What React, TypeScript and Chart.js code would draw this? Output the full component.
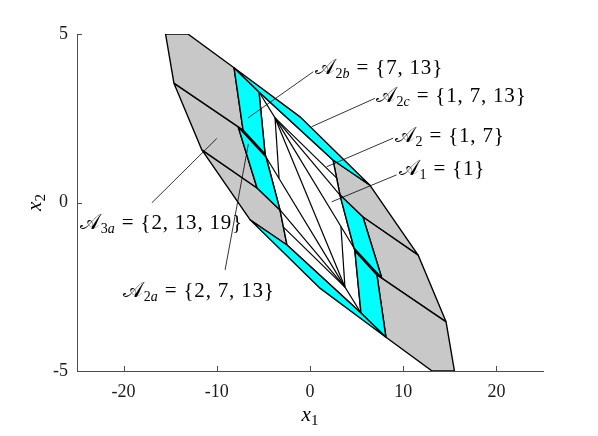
import React, { useEffect, useRef } from 'react';
import { Chart, registerables } from 'chart.js';

Chart.register(...registerables);

const xTicks = [-20, -10, 0, 10, 20];
const yTicks = [-5, 0, 5];

// Region vertices in (x1, x2)
const grayRegions: number[][][] = [
  [[-15.5, 5], [-13.1, 5], [-8.15, 4.0], [-7.18, 2.15], [-14.6, 3.54]],
  [[-14.6, 3.54], [-7.7, 2.24], [-5.68, 0.43], [-11.6, 1.56]],
  [[-11.6, 1.56], [-5.68, 0.43], [-3.22, -0.22], [-2.47, -1.26], [-6.4, -0.52]],
  [[-7.7, 2.24], [-7.18, 2.15], [-4.82, 1.44], [-4.72, 1.35]],
  [[15.5, -5], [13.1, -5], [8.15, -4.0], [7.18, -2.15], [14.6, -3.54]],
  [[14.6, -3.54], [7.7, -2.24], [5.68, -0.43], [11.6, -1.56]],
  [[11.6, -1.56], [5.68, -0.43], [3.22, 0.22], [2.47, 1.26], [6.4, 0.52]],
  [[7.7, -2.24], [7.18, -2.15], [4.82, -1.44], [4.72, -1.35]],
];

const cyanRegions: number[][][] = [
  [[-8.15, 4.0], [-1.1, 2.55], [6.4, 0.52], [2.47, 1.26], [-5.47, 3.28]],
  [[-8.15, 4.0], [-5.47, 3.28], [-4.82, 1.44], [-7.18, 2.15]],
  [[-7.7, 2.24], [-4.72, 1.35], [-3.22, -0.22], [-5.68, 0.43]],
  [[8.15, -4.0], [1.1, -2.55], [-6.4, -0.52], [-2.47, -1.26], [5.47, -3.28]],
  [[8.15, -4.0], [5.47, -3.28], [4.82, -1.44], [7.18, -2.15]],
  [[7.7, -2.24], [4.72, -1.35], [3.22, 0.22], [5.68, -0.43]],
];

const whiteRegions: number[][][] = [
  [[-5.47, 3.28], [2.47, 1.26], [3.22, 0.22], [4.72, -1.35], [4.82, -1.44],
   [5.47, -3.28], [-2.47, -1.26], [-3.22, -0.22], [-4.72, 1.35], [-4.82, 1.44]],
];

const innerLines: number[][][] = [
  [[-5.47, 3.28], [-3.75, 2.51]],
  [[-3.75, 2.51], [-3.32, 0.72]],
  [[-3.75, 2.51], [4.72, -1.35]],
  [[-3.75, 2.51], [3.75, -2.51]],
  [[-3.75, 2.51], [2.85, 0.73]],
  [[-3.75, 2.51], [3.22, 0.22]],
  [[5.47, -3.28], [3.75, -2.51]],
  [[3.75, -2.51], [3.32, -0.72]],
  [[3.75, -2.51], [-4.72, 1.35]],
  [[3.75, -2.51], [-2.85, -0.73]],
  [[3.75, -2.51], [-3.22, -0.22]],
];

// Annotations: subscript, set text, label anchor (left, middle), leader start, leader end
const labelSubs = ['2b', '2c', '2', '1', '3a', '2a'];
const labelSets = ['{7, 13}', '{1, 7, 13}', '{1, 7}', '{1}', '{2, 13, 19}', '{2, 7, 13}'];
const labelAt = [[0.54, 4.03], [7.07, 3.19], [9.11, 2.0], [9.54, 1.02], [-24.65, -0.58], [-20.04, -2.6]];
const leaderFrom = [[0.35, 3.88], [6.97, 3.09], [8.93, 1.91], [9.29, 0.82], [-16.97, -0.01], [-9.11, -2.0]];
const leaderTo = [[-6.65, 2.51], [0.18, 2.25], [1.79, 1.06], [2.33, 0.02], [-10.0, 1.9], [-6.61, 1.74]];

const FONT = "'Liberation Serif', 'DejaVu Serif', serif";
const AXIS_COLOR = '#4d4d4d';

const overlay = {
  id: 'overlay',
  afterDraw(chart: any) {
    const ctx = chart.ctx as CanvasRenderingContext2D;
    const xs = chart.scales.x;
    const ys = chart.scales.y;
    const area = chart.chartArea;
    ctx.save();
    // inward tick marks
    ctx.strokeStyle = AXIS_COLOR;
    ctx.lineWidth = 1;
    ctx.beginPath();
    xTicks.forEach((v) => {
      const px = Math.round(xs.getPixelForValue(v)) + 0.5;
      ctx.moveTo(px, area.bottom);
      ctx.lineTo(px, area.bottom - 5);
    });
    yTicks.forEach((v) => {
      const py = Math.round(ys.getPixelForValue(v)) + 0.5;
      ctx.moveTo(area.left, py);
      ctx.lineTo(area.left + 5, py);
    });
    ctx.stroke();

    // leaders
    ctx.strokeStyle = '#000';
    ctx.lineWidth = 0.8;
    for (let i = 0; i < labelSubs.length; i++) {
      ctx.beginPath();
      ctx.moveTo(xs.getPixelForValue(leaderFrom[i][0]), ys.getPixelForValue(leaderFrom[i][1]));
      ctx.lineTo(xs.getPixelForValue(leaderTo[i][0]), ys.getPixelForValue(leaderTo[i][1]));
      ctx.stroke();
    }

    // labels
    ctx.fillStyle = '#000';
    ctx.textBaseline = 'alphabetic';
    ctx.textAlign = 'left';
    const c2: any = ctx;
    for (let i = 0; i < labelSubs.length; i++) {
      let x = xs.getPixelForValue(labelAt[i][0]);
      const base = ys.getPixelForValue(labelAt[i][1]) + 7;
      c2.letterSpacing = '0px';
      ctx.font = `21px ${FONT}`;
      ctx.fillText('𝒜', x, base);
      x += ctx.measureText('𝒜').width + 0.5;
      for (const ch of labelSubs[i]) {
        ctx.font = /[0-9]/.test(ch) ? `14px ${FONT}` : `italic 14px ${FONT}`;
        ctx.fillText(ch, x, base + 4);
        x += ctx.measureText(ch).width;
      }
      c2.letterSpacing = '0.8px';
      ctx.font = `21px ${FONT}`;
      const rest = ' = ' + labelSets[i];
      ctx.fillText(rest, x + 1, base);
    }
    c2.letterSpacing = '0px';

    // axis titles
    const cx = (area.left + area.right) / 2;
    ctx.font = `italic 21px ${FONT}`;
    const wx = ctx.measureText('x').width;
    ctx.font = `15px ${FONT}`;
    const w1 = ctx.measureText('1').width;
    let tx = cx - (wx + w1) / 2;
    ctx.font = `italic 21px ${FONT}`;
    ctx.fillText('x', tx, 421);
    ctx.font = `15px ${FONT}`;
    ctx.fillText('1', tx + wx, 425);

    const cy = (area.top + area.bottom) / 2;
    ctx.translate(41, cy);
    ctx.rotate(-Math.PI / 2);
    ctx.font = `italic 21px ${FONT}`;
    tx = -(wx + w1) / 2;
    ctx.fillText('x', tx, 0);
    ctx.font = `15px ${FONT}`;
    ctx.fillText('2', tx + wx, 4);
    ctx.restore();
  },
};

export default function App() {
  const ref = useRef<HTMLCanvasElement>(null);
  useEffect(() => {
    document.body.style.margin = '0';
    const canvas = ref.current!;
    const toPts = (poly: number[][]) => poly.map(([x, y]) => ({ x, y }));
    const close = (poly: number[][]) => [...poly, poly[0]];
    const datasets: any[] = [];
    innerLines.forEach((seg) =>
      datasets.push({ data: toPts(seg), borderColor: '#000', borderWidth: 1.2, pointRadius: 0, fill: false, order: 0 })
    );
    const addPolys = (polys: number[][][], color: string, order: number) =>
      polys.forEach((p) =>
        datasets.push({
          data: toPts(close(p)),
          borderColor: '#000',
          borderWidth: 1.4,
          borderJoinStyle: 'round',
          backgroundColor: color,
          fill: 'shape',
          pointRadius: 0,
          order,
        })
      );
    addPolys(cyanRegions, '#00ffff', 1);
    addPolys(whiteRegions, '#ffffff', 2);
    addPolys(grayRegions, '#c8c8c8', 3);

    const chart = new Chart(canvas, {
      type: 'line',
      data: { datasets },
      options: {
        animation: false,
        responsive: false,
        events: [],
        plugins: { legend: { display: false }, tooltip: { enabled: false } },
        layout: { padding: { top: 34, right: 55, left: 0, bottom: 0 } },
        scales: {
          x: {
            type: 'linear',
            min: -25,
            max: 25,
            afterBuildTicks: (s: any) => { s.ticks = xTicks.map((v) => ({ value: v })); },
            afterFit: (s: any) => { s.height = 65; },
            grid: { display: false, drawTicks: false },
            border: { display: true, color: AXIS_COLOR, width: 1 },
            ticks: { padding: 10, color: '#1a1a1a', font: { family: FONT, size: 18 }, callback: (v: any) => String(v), maxRotation: 0 },
          },
          y: {
            type: 'linear',
            min: -5,
            max: 5,
            afterBuildTicks: (s: any) => { s.ticks = yTicks.map((v) => ({ value: v })); },
            afterFit: (s: any) => { s.width = 77; },
            grid: { display: false, drawTicks: false },
            border: { display: true, color: AXIS_COLOR, width: 1 },
            ticks: { padding: 9, color: '#1a1a1a', font: { family: FONT, size: 18 }, callback: (v: any) => String(v) },
          },
        },
      } as any,
      plugins: [overlay],
    });
    return () => chart.destroy();
  }, []);
  return <canvas ref={ref} width={598} height={436} style={{ display: 'block' }} />;
}
